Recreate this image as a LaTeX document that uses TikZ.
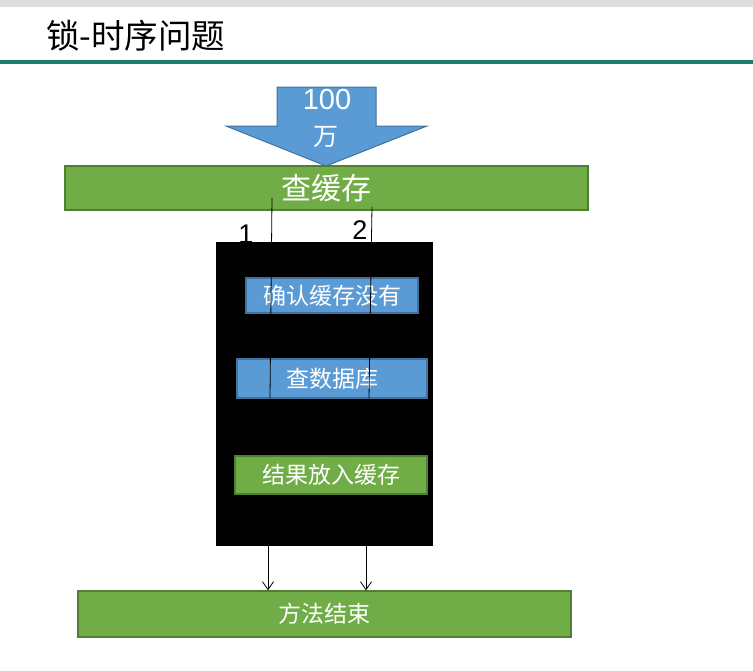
\documentclass[tikz,border=0pt]{standalone}
\usepackage{fontspec}
\setmainfont{Liberation Sans}
\newfontfamily\cjk{Noto Sans CJK SC}
\usetikzlibrary{arrows.meta}
\definecolor{topband}{HTML}{DCDDDE}
\definecolor{rulecolor}{HTML}{1B7F6C}
\definecolor{boxgreen}{HTML}{70AD47}
\definecolor{boxgreenedge}{HTML}{507E32}
\definecolor{boxblue}{HTML}{5B9BD5}
\definecolor{boxblueedge}{HTML}{41719C}
\tikzset{
  greenbox/.style={draw=boxgreenedge, line width=1.2pt, fill=boxgreen, text=white,
    inner sep=0pt, font=\cjk\fontsize{23}{27}\selectfont},
  bluebox/.style={draw=boxblueedge, line width=1.2pt, fill=boxblue, text=white,
    inner sep=0pt, font=\cjk\fontsize{23}{27}\selectfont},
  thread/.style={black, line width=0.8pt},
  flow/.style={black, line width=0.8pt, -{Straight Barb[length=8pt,width=11pt]}},
  numlabel/.style={inner sep=0pt, font=\fontsize{27}{30}\selectfont}
}
\begin{document}
\begin{tikzpicture}[x=1pt,y=-1pt]
\useasboundingbox (0,0) rectangle (753,670);
% header band, title and rule
\fill[topband] (0,0) rectangle (753,7);
\node[anchor=west, inner sep=0pt, font=\cjk\fontsize{33.5}{36}\selectfont] (title) at (46,36) {锁-时序问题};
\fill[rulecolor] (0,60) rectangle (753,64);

% incoming load arrow
\draw[fill=boxblue, draw=boxblueedge, line width=1pt]
  (277,87) -- (376,87) -- (376,126) -- (427,126) -- (326,166) -- (226,126) -- (277,126) -- cycle;
\node[text=white, inner sep=0pt, font=\fontsize{29}{32}\selectfont] (load) at (327,100) {100};
\node[text=white, inner sep=0pt, font=\cjk\fontsize{25}{28}\selectfont] (wan) at (326,137) {万};

% cache lookup
\node[greenbox, minimum width=523pt, minimum height=44pt, font=\cjk\fontsize{30}{34}\selectfont] (cache) at (326.5,188) {查缓存};

% critical section
\node[fill=black, minimum width=217pt, minimum height=304pt, inner sep=0pt] (block) at (324.5,394) {};
\node[bluebox, minimum width=172pt, minimum height=35pt] (check) at (332,295.5) {确认缓存没有};
\node[bluebox, minimum width=190pt, minimum height=39pt] (query) at (332,378.5) {查数据库};
\node[greenbox, minimum width=192pt, minimum height=38pt] (store) at (331,475) {结果放入缓存};

% end of method
\node[greenbox, minimum width=493pt, minimum height=46pt] (finish) at (324.5,614) {方法结束};

% the two threads
\node[numlabel] (t1) at (246,234) {1};
\node[numlabel] (t2) at (360,230) {2};
\coordinate (s1) at (272,198);
\coordinate (e1) at (270,398);
\coordinate (s2) at (372,207);
\coordinate (e2) at (369,398);
\draw[thread] (s1) -- (e1);
\draw[thread] (s2) -- (e2);

% exits from the critical section
\coordinate (o1) at (268,546);
\coordinate (o2) at (366,546);
\draw[flow] (o1) -- (o1 |- finish.north);
\draw[flow] (o2) -- (o2 |- finish.north);
\end{tikzpicture}
\end{document}
